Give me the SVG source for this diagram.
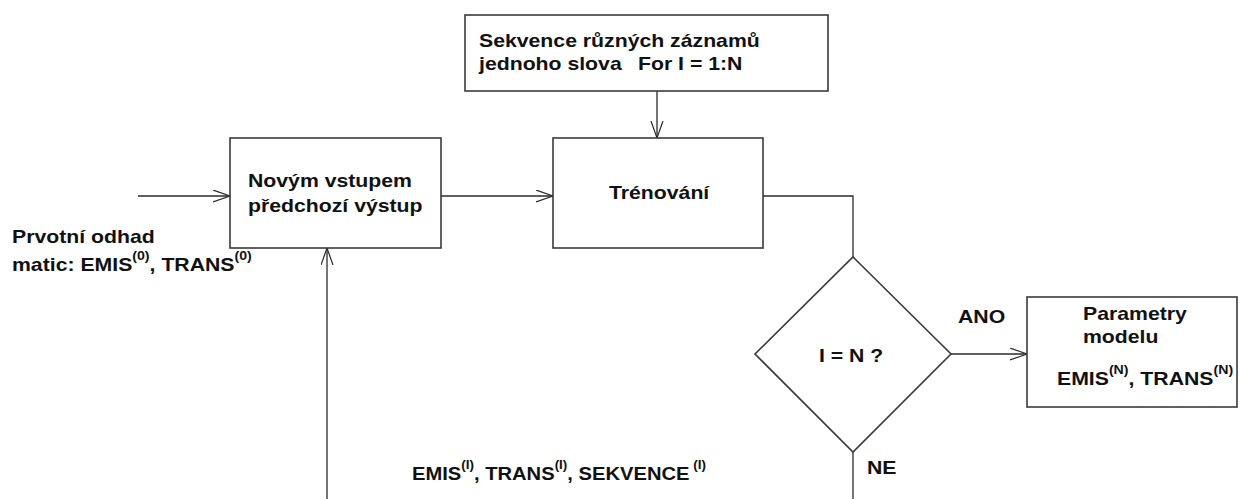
<svg xmlns="http://www.w3.org/2000/svg" width="1240" height="499" viewBox="0 0 1240 499">
<style>
.box{fill:#fff;stroke:#3a3a3a;stroke-width:1.6}
.ln{fill:none;stroke:#2a2a2a;stroke-width:1.3}
.t{font-family:"Liberation Sans",Arial,sans-serif;font-weight:bold;font-size:18px;fill:#111}
.sup{font-size:12px}
</style>
<defs>
<marker id="ah" markerUnits="userSpaceOnUse" markerWidth="20" markerHeight="14" refX="17" refY="6.5" orient="auto">
<path d="M0,0.5 L17,6.5 L0,12.5" fill="none" stroke="#2a2a2a" stroke-width="1.2"/>
</marker>
</defs>
<rect width="1240" height="499" fill="#fff"/>
<g id="connectors">
<path class="ln" d="M138,196 H230" marker-end="url(#ah)"/>
<path class="ln" d="M441,196 H553" marker-end="url(#ah)"/>
<path class="ln" d="M657,91 V138" marker-end="url(#ah)"/>
<path class="ln" d="M763,196 H853 V257"/>
<path class="ln" d="M951,354 H1027" marker-end="url(#ah)"/>
<path class="ln" d="M853,452 V499"/>
<path class="ln" d="M327,499 V248" marker-end="url(#ah)"/>
</g>
<g id="sequence">
<rect class="box" x="465" y="15" width="363" height="76"/>
<g transform="translate(479,47) scale(1.18,1)"><text class="t">Sekvence různých záznamů</text></g>
<g transform="translate(479,70) scale(1.18,1)"><text class="t">jednoho slova</text></g>
<g transform="translate(638,70) scale(1.18,1)"><text class="t">For I = 1:N</text></g>
</g>
<g id="input">
<rect class="box" x="230" y="138" width="211" height="110"/>
<g transform="translate(248,187) scale(1.18,1)"><text class="t">Novým vstupem</text></g>
<g transform="translate(248,212) scale(1.18,1)"><text class="t">předchozí výstup</text></g>
</g>
<g id="training">
<rect class="box" x="553" y="138" width="210" height="110"/>
<g transform="translate(609,199) scale(1.18,1)"><text class="t">Trénování</text></g>
</g>
<g id="initial">
<g transform="translate(12,243) scale(1.18,1)"><text class="t">Prvotní odhad</text></g>
<g transform="translate(12,271) scale(1.18,1)"><text class="t">matic: EMIS<tspan class="sup" dy="-11">(0)</tspan><tspan dy="11">, TRANS</tspan><tspan class="sup" dy="-11">(0)</tspan></text></g>
</g>
<g id="decision">
<path class="box" d="M853,257 L951,354 L853,452 L755,354 Z"/>
<g transform="translate(819,362) scale(1.18,1)"><text class="t">I = N ?</text></g>
<g transform="translate(958,323) scale(1.18,1)"><text class="t">ANO</text></g>
<g transform="translate(867,474) scale(1.18,1)"><text class="t">NE</text></g>
</g>
<g id="result">
<rect class="box" x="1027" y="297" width="210" height="110"/>
<g transform="translate(1083,320) scale(1.18,1)"><text class="t">Parametry</text></g>
<g transform="translate(1083,343) scale(1.18,1)"><text class="t">modelu</text></g>
<g transform="translate(1057,385) scale(1.18,1)"><text class="t">EMIS<tspan class="sup" dy="-11">(N)</tspan><tspan dy="11">, TRANS</tspan><tspan class="sup" dy="-11">(N)</tspan></text></g>
</g>
<g id="feedback">
<g transform="translate(412,480) scale(1.12,1)"><text class="t">EMIS<tspan class="sup" dy="-11">(I)</tspan><tspan dy="11">, TRANS</tspan><tspan class="sup" dy="-11">(I)</tspan><tspan dy="11">, SEKVENCE</tspan><tspan class="sup" dy="-11"> (I)</tspan></text></g>
</g>
</svg>
